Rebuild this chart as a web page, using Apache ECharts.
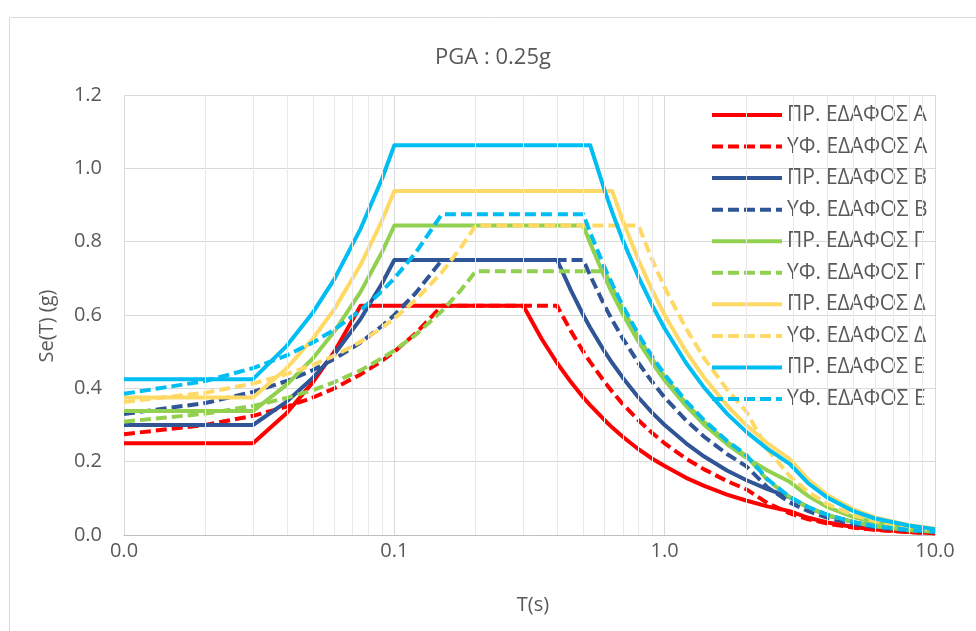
<!DOCTYPE html>
<html lang="el">
<head>
<meta charset="utf-8" />
<script src="https://cdn.jsdelivr.net/npm/echarts@6/dist/echarts.min.js"></script>
<style>
  html, body { margin: 0; padding: 0; background: #ffffff; }
  #main { width: 976px; height: 631px; }
</style>
</head>
<body>
<div id="main"></div>
<script>
// periods T (s), shared by all curves
var periods = [0.01, 0.02, 0.03, 0.04, 0.05, 0.06, 0.075, 0.09, 0.1, 0.12, 0.15, 0.175, 0.2,
  0.25, 0.3, 0.35, 0.4, 0.45, 0.5, 0.53, 0.6, 0.64, 0.7, 0.8, 0.9, 1.0, 1.2, 1.4, 1.7, 2.0,
  2.4, 2.9, 3.4, 4.0, 5.0, 6.0, 8.0, 10.0];

// Se(T) in g
var prA = [0.25, 0.25, 0.25, 0.333, 0.417, 0.5, 0.625, 0.625, 0.625, 0.625, 0.625, 0.625, 0.625,
  0.625, 0.625, 0.536, 0.469, 0.417, 0.375, 0.354, 0.313, 0.293, 0.268, 0.234, 0.208, 0.188,
  0.156, 0.134, 0.110, 0.094, 0.078, 0.065, 0.047, 0.034, 0.022, 0.015, 0.008, 0.005];
var yfA = [0.275, 0.3, 0.325, 0.35, 0.375, 0.4, 0.438, 0.475, 0.5, 0.55, 0.625, 0.625, 0.625,
  0.625, 0.625, 0.625, 0.625, 0.556, 0.5, 0.472, 0.417, 0.391, 0.357, 0.313, 0.278, 0.25,
  0.208, 0.179, 0.147, 0.125, 0.087, 0.059, 0.043, 0.031, 0.02, 0.014, 0.008, 0.005];
var prB = [0.3, 0.3, 0.3, 0.364, 0.429, 0.493, 0.589, 0.686, 0.75, 0.75, 0.75, 0.75, 0.75,
  0.75, 0.75, 0.75, 0.75, 0.667, 0.6, 0.566, 0.5, 0.469, 0.429, 0.375, 0.333, 0.3,
  0.25, 0.214, 0.176, 0.15, 0.125, 0.103, 0.075, 0.054, 0.035, 0.024, 0.014, 0.009];
var yfB = [0.33, 0.36, 0.39, 0.42, 0.45, 0.48, 0.525, 0.57, 0.6, 0.66, 0.75, 0.75, 0.75,
  0.75, 0.75, 0.75, 0.75, 0.75, 0.75, 0.708, 0.625, 0.586, 0.536, 0.469, 0.417, 0.375,
  0.313, 0.268, 0.221, 0.188, 0.13, 0.089, 0.065, 0.047, 0.03, 0.021, 0.012, 0.008];
var prG = [0.338, 0.338, 0.338, 0.41, 0.482, 0.555, 0.663, 0.771, 0.844, 0.844, 0.844, 0.844, 0.844,
  0.844, 0.844, 0.844, 0.844, 0.844, 0.844, 0.796, 0.703, 0.659, 0.603, 0.527, 0.469, 0.422,
  0.352, 0.301, 0.248, 0.211, 0.176, 0.145, 0.106, 0.076, 0.049, 0.034, 0.019, 0.012];
var yfG = [0.309, 0.331, 0.352, 0.374, 0.395, 0.417, 0.449, 0.482, 0.503, 0.546, 0.611, 0.665, 0.719,
  0.719, 0.719, 0.719, 0.719, 0.719, 0.719, 0.719, 0.719, 0.674, 0.616, 0.539, 0.479, 0.431,
  0.359, 0.308, 0.254, 0.216, 0.15, 0.103, 0.075, 0.054, 0.035, 0.024, 0.013, 0.009];
var prD = [0.375, 0.375, 0.375, 0.455, 0.536, 0.616, 0.737, 0.857, 0.938, 0.938, 0.938, 0.938, 0.938,
  0.938, 0.938, 0.938, 0.938, 0.938, 0.938, 0.938, 0.938, 0.938, 0.857, 0.75, 0.667, 0.6,
  0.5, 0.429, 0.353, 0.3, 0.25, 0.207, 0.151, 0.109, 0.07, 0.048, 0.027, 0.017];
var yfD = [0.363, 0.388, 0.413, 0.439, 0.464, 0.489, 0.527, 0.565, 0.591, 0.641, 0.717, 0.781, 0.844,
  0.844, 0.844, 0.844, 0.844, 0.844, 0.844, 0.844, 0.844, 0.844, 0.844, 0.844, 0.75, 0.675,
  0.563, 0.482, 0.397, 0.338, 0.234, 0.161, 0.117, 0.084, 0.054, 0.038, 0.021, 0.014];
var prE = [0.425, 0.425, 0.425, 0.516, 0.607, 0.698, 0.835, 0.971, 1.063, 1.063, 1.063, 1.063, 1.063,
  1.063, 1.063, 1.063, 1.063, 1.063, 1.063, 1.063, 0.939, 0.88, 0.804, 0.704, 0.626, 0.563,
  0.469, 0.402, 0.331, 0.282, 0.235, 0.194, 0.141, 0.102, 0.065, 0.045, 0.026, 0.016];
var yfE = [0.385, 0.42, 0.455, 0.49, 0.525, 0.56, 0.613, 0.665, 0.7, 0.77, 0.875, 0.875, 0.875,
  0.875, 0.875, 0.875, 0.875, 0.875, 0.875, 0.825, 0.729, 0.684, 0.625, 0.547, 0.486, 0.438,
  0.365, 0.313, 0.257, 0.219, 0.152, 0.104, 0.076, 0.055, 0.035, 0.024, 0.014, 0.009];

var seriesNames = ['ΠΡ. ΕΔΑΦΟΣ Α', 'ΥΦ. ΕΔΑΦΟΣ Α', 'ΠΡ. ΕΔΑΦΟΣ Β', 'ΥΦ. ΕΔΑΦΟΣ Β',
  'ΠΡ. ΕΔΑΦΟΣ Γ', 'ΥΦ. ΕΔΑΦΟΣ Γ', 'ΠΡ. ΕΔΑΦΟΣ Δ', 'ΥΦ. ΕΔΑΦΟΣ Δ',
  'ΠΡ. ΕΔΑΦΟΣ Ε', 'ΥΦ. ΕΔΑΦΟΣ Ε'];
var seriesValues = [prA, yfA, prB, yfB, prG, yfG, prD, yfD, prE, yfE];

var yTicks = [0, 0.2, 0.4, 0.6, 0.8, 1.0, 1.2];
// minor vertical gridlines (2..9 in each decade)
var minorTicks = [0.02, 0.03, 0.04, 0.05, 0.06, 0.07, 0.08, 0.09,
  0.2, 0.3, 0.4, 0.5, 0.6, 0.7, 0.8, 0.9,
  2, 3, 4, 5, 6, 7, 8, 9];

var colors = ['#ff0000', '#ff0000', '#2f5597', '#2f5597', '#92d050', '#92d050',
  '#ffd966', '#ffd966', '#00bdf2', '#00bdf2'];
var FONT = "'Open Sans', 'Noto Sans', sans-serif";
var GREY = '#595959';

var series = [{
  name: 'minor-grid',
  type: 'line',
  data: [],
  z: 1,
  silent: true,
  markLine: {
    silent: true,
    animation: false,
    symbol: ['none', 'none'],
    label: { show: false },
    lineStyle: { color: '#e9e9e9', width: 1, type: 'solid' },
    emphasis: { disabled: true },
    data: minorTicks.map(function (v) { return { xAxis: v }; })
  }
}];

seriesNames.forEach(function (name, k) {
  var dashed = k % 2 === 1;
  series.push({
    name: name,
    type: 'line',
    data: periods.map(function (t, i) { return [t, seriesValues[k][i]]; }),
    symbol: 'none',
    showSymbol: false,
    lineStyle: { color: colors[k], width: 4, type: dashed ? [11, 5] : 'solid', join: 'round' },
    itemStyle: { color: colors[k] },
    emphasis: { disabled: true }
  });
});

var chart = echarts.init(document.getElementById('main'));
chart.setOption({
  animation: false,
  textStyle: { fontFamily: FONT },
  title: {
    text: 'PGA : 0.25g',
    left: 493,
    top: 47,
    padding: 0,
    textAlign: 'center',
    textStyle: { fontSize: 22, fontWeight: 'normal', color: GREY, fontFamily: FONT }
  },
  grid: { left: 124, right: 41, top: 95, bottom: 96, containLabel: false },
  legend: {
    data: seriesNames,
    orient: 'vertical',
    left: 710,
    top: 104.5,
    itemWidth: 70,
    itemHeight: 14,
    itemGap: 10.56,
    padding: 0,
    itemStyle: { color: 'rgba(0,0,0,0)', borderColor: 'rgba(0,0,0,0)', borderWidth: 0, opacity: 0 },
    lineStyle: { width: 4 },
    textStyle: { fontSize: 21, color: GREY, fontFamily: FONT }
  },
  xAxis: {
    type: 'log',
    logBase: 10,
    min: 0.01,
    max: 10,
    axisLine: { show: true, lineStyle: { color: '#bfbfbf', width: 1 } },
    axisTick: { show: false },
    axisLabel: {
      margin: 6,
      fontSize: 20,
      color: GREY,
      fontFamily: FONT,
      formatter: function (v) { return Number(v).toFixed(1); }
    },
    splitLine: { show: true, lineStyle: { color: '#d9d9d9', width: 1 } }
  },
  yAxis: {
    type: 'value',
    min: yTicks[0],
    max: yTicks[yTicks.length - 1],
    interval: 0.2,
    axisLine: { show: false },
    axisTick: { show: false },
    axisLabel: {
      margin: 22,
      fontSize: 20,
      color: GREY,
      fontFamily: FONT,
      formatter: function (v) { return Number(v).toFixed(1); }
    },
    splitLine: { show: true, lineStyle: { color: '#d9d9d9', width: 1 } }
  },
  graphic: [
    {
      type: 'rect', silent: true, z: -10,
      shape: { x: 9.5, y: 17.5, width: 1000, height: 700 },
      style: { fill: 'none', stroke: '#d9d9d9', lineWidth: 1 }
    },
    {
      type: 'text', silent: true, x: 47, y: 326, rotation: Math.PI / 2,
      style: { text: 'Se(T) (g)', fontSize: 20, fill: GREY, fontFamily: FONT, align: 'center', verticalAlign: 'middle' }
    },
    {
      type: 'text', silent: true, x: 533, y: 605,
      style: { text: 'T(s)', fontSize: 20, fill: GREY, fontFamily: FONT, align: 'center', verticalAlign: 'middle' }
    }
  ],
  series: series
});
</script>
</body>
</html>
